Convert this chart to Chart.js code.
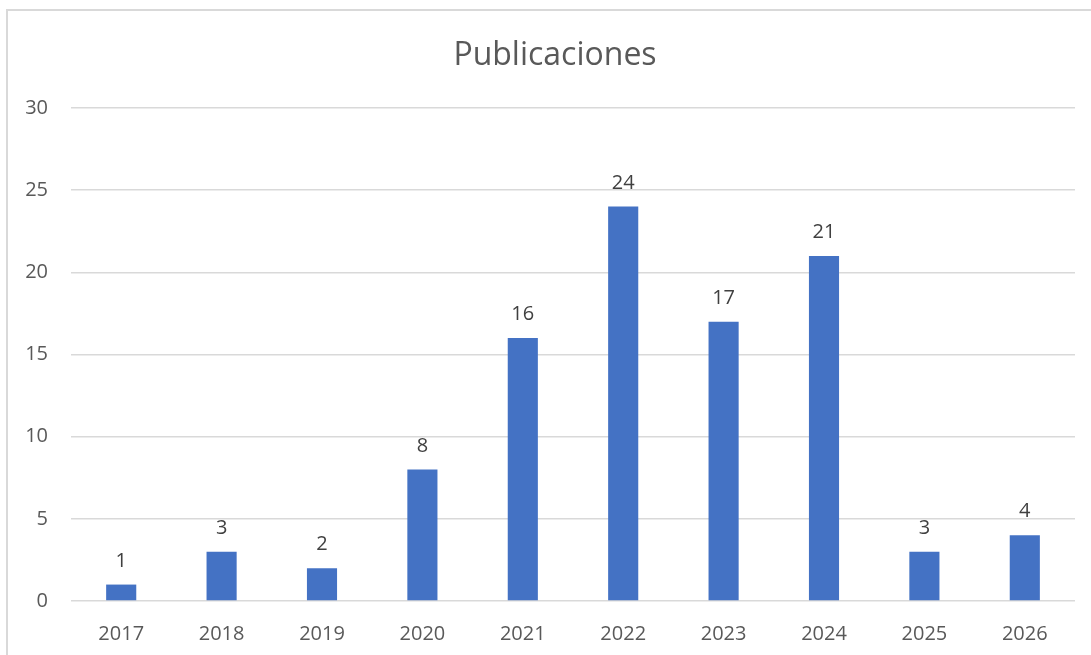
<!DOCTYPE html>
<html>
<head>
<meta charset="utf-8">
<script src="https://cdn.jsdelivr.net/npm/chart.js@4.4.1/dist/chart.umd.min.js"></script>
<style>
html,body{margin:0;padding:0;background:#fff;}
#wrap{position:relative;width:1091px;height:655px;}
</style>
</head>
<body>
<div id="wrap"><canvas id="c" width="1091" height="655"></canvas></div>
<script>
const categories = ['2017','2018','2019','2020','2021','2022','2023','2024','2025','2026'];
const publicaciones = [1, 3, 2, 8, 16, 24, 17, 21, 3, 4];
const yTicks = [0, 5, 10, 15, 20, 25, 30];
const chartTitle = 'Publicaciones';

const FONT = "'Open Sans', sans-serif";
const FRAME = { x: 7, y: 10, w: 1096, h: 680 };

const framePlugin = {
  id: 'frame',
  beforeDraw(chart) {
    const ctx = chart.ctx;
    ctx.save();
    ctx.fillStyle = '#ffffff';
    ctx.fillRect(0, 0, chart.width, chart.height);
    ctx.strokeStyle = '#d9d9d9';
    ctx.lineWidth = 2;
    ctx.strokeRect(FRAME.x, FRAME.y, FRAME.w, FRAME.h);
    ctx.font = '32px ' + FONT;
    ctx.fillStyle = '#595959';
    ctx.textAlign = 'center';
    ctx.textBaseline = 'alphabetic';
    ctx.fillText(chartTitle, FRAME.x + FRAME.w / 2, 65);
    ctx.restore();
  }
};

const valueLabels = {
  id: 'valueLabels',
  afterDatasetsDraw(chart) {
    const ctx = chart.ctx;
    const meta = chart.getDatasetMeta(0);
    ctx.save();
    ctx.font = '20px ' + FONT;
    ctx.fillStyle = '#404040';
    ctx.textAlign = 'center';
    ctx.textBaseline = 'alphabetic';
    meta.data.forEach((bar, i) => {
      ctx.fillText(String(chart.data.datasets[0].data[i]), bar.x, bar.y - 18);
    });
    ctx.restore();
  }
};

new Chart(document.getElementById('c'), {
  type: 'bar',
  data: {
    labels: categories,
    datasets: [{
      label: chartTitle,
      data: publicaciones,
      backgroundColor: '#4472C4',
      borderWidth: 0,
      barPercentage: 0.3,
      categoryPercentage: 1.0
    }]
  },
  options: {
    responsive: false,
    animation: false,
    layout: { padding: { left: 0, right: 16, top: 108, bottom: 0 } },
    plugins: {
      legend: { display: false },
      tooltip: { enabled: false },
      title: { display: false }
    },
    scales: {
      x: {
        grid: { display: false },
        border: { display: false },
        ticks: { color: '#595959', font: { family: FONT, size: 20 }, padding: 13, maxRotation: 0 },
        afterFit(scale) { scale.height = 54; }
      },
      y: {
        min: 0,
        max: 30,
        afterBuildTicks(scale) { scale.ticks = yTicks.map(v => ({ value: v })); },
        grid: { color: '#d9d9d9', lineWidth: 1.5, drawTicks: false },
        border: { display: false },
        ticks: { color: '#595959', font: { family: FONT, size: 20 }, padding: 23 },
        afterFit(scale) { scale.width = 71; }
      }
    }
  },
  plugins: [framePlugin, valueLabels]
});
</script>
</body>
</html>
